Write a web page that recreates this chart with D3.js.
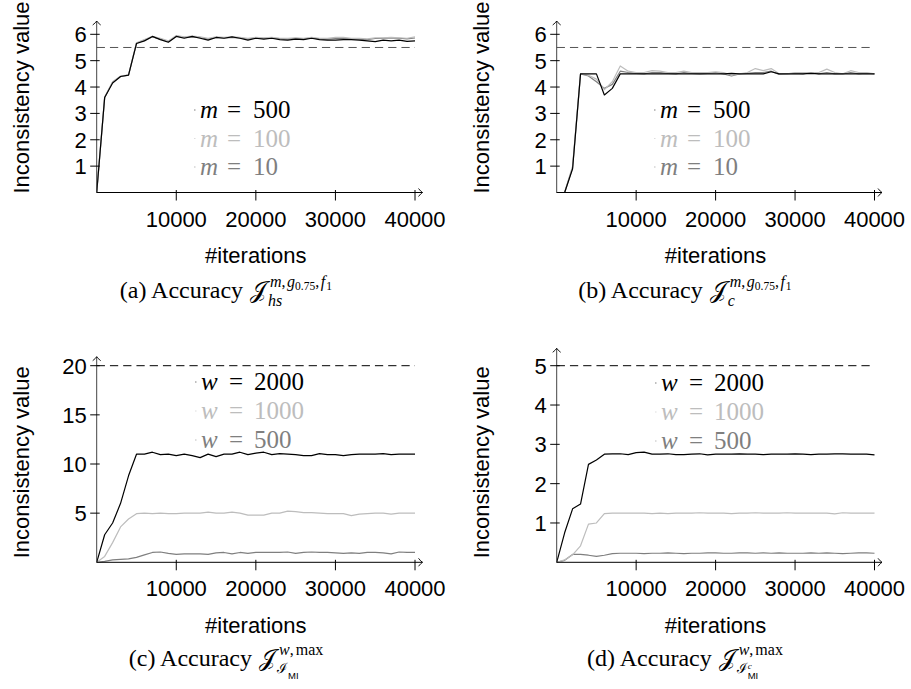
<!DOCTYPE html>
<html>
<head>
<meta charset="utf-8">
<script src="https://cdn.jsdelivr.net/npm/d3@7"></script>
<style>
  body { margin: 0; background: #fff; }
  svg { display: block; }
  .tick-label { font-family: "Liberation Sans", Arial, sans-serif; font-size: 22px; fill: #000; }
  .axis-title { font-family: "Liberation Sans", Arial, sans-serif; font-size: 22px; fill: #000; }
</style>
</head>
<body>
<svg id="chart" width="911" height="689"></svg>
<script>
//------------------------------------------------------------------------------
// data, read off the reference picture (sampled every 1000 iterations)

const iterations = [
  0, 1000, 2000, 3000, 4000, 5000, 6000, 7000, 8000, 9000,
  10000, 11000, 12000, 13000, 14000, 15000, 16000, 17000, 18000, 19000,
  20000, 21000, 22000, 23000, 24000, 25000, 26000, 27000, 28000, 29000,
  30000, 31000, 32000, 33000, 34000, 35000, 36000, 37000, 38000, 39000, 40000
];

const xTicks = [10000, 20000, 30000, 40000];

// (a) hs
const hsM500 = [0, 3.6, 4.15, 4.4, 4.45, 5.65, 5.75, 5.92, 5.8, 5.7, 5.92, 5.85, 5.92, 5.85, 5.78, 5.88, 5.85, 5.9, 5.85, 5.78, 5.85, 5.82, 5.85, 5.8, 5.78, 5.82, 5.8, 5.85, 5.8, 5.78, 5.78, 5.8, 5.8, 5.78, 5.75, 5.72, 5.78, 5.75, 5.78, 5.73, 5.75];
const hsM100 = [0, 3.62, 4.2, 4.42, 4.45, 5.68, 5.8, 5.92, 5.85, 5.75, 5.95, 5.9, 5.93, 5.9, 5.85, 5.9, 5.88, 5.9, 5.88, 5.85, 5.88, 5.87, 5.88, 5.85, 5.85, 5.87, 5.85, 5.88, 5.85, 5.85, 5.88, 5.88, 5.85, 5.85, 5.83, 5.87, 5.87, 5.88, 5.87, 5.85, 5.9];
const hsM10 = [0, 3.6, 4.18, 4.4, 4.45, 5.66, 5.78, 5.9, 5.82, 5.72, 5.93, 5.88, 5.9, 5.88, 5.82, 5.88, 5.86, 5.88, 5.86, 5.82, 5.86, 5.85, 5.86, 5.84, 5.82, 5.85, 5.83, 5.86, 5.83, 5.82, 5.84, 5.85, 5.83, 5.82, 5.8, 5.84, 5.85, 5.86, 5.85, 5.83, 5.86];

// (b) c
const cM500 = [0, 0, 0.9, 4.5, 4.5, 4.5, 3.7, 3.95, 4.5, 4.5, 4.5, 4.5, 4.5, 4.5, 4.5, 4.5, 4.5, 4.5, 4.5, 4.5, 4.5, 4.5, 4.52, 4.5, 4.5, 4.5, 4.5, 4.58, 4.5, 4.5, 4.5, 4.5, 4.52, 4.5, 4.5, 4.5, 4.5, 4.5, 4.5, 4.5, 4.5];
const cM100 = [0, 0, 1.0, 4.5, 4.45, 4.3, 3.9, 4.2, 4.8, 4.6, 4.55, 4.55, 4.62, 4.6, 4.55, 4.55, 4.6, 4.55, 4.55, 4.55, 4.58, 4.55, 4.45, 4.5, 4.55, 4.7, 4.62, 4.7, 4.5, 4.5, 4.55, 4.55, 4.55, 4.55, 4.68, 4.55, 4.5, 4.62, 4.55, 4.55, 4.5];
const cM10 = [0, 0, 0.95, 4.5, 4.42, 4.2, 3.95, 4.1, 4.6, 4.55, 4.52, 4.5, 4.55, 4.55, 4.52, 4.5, 4.55, 4.52, 4.5, 4.52, 4.55, 4.5, 4.42, 4.5, 4.52, 4.55, 4.55, 4.6, 4.48, 4.5, 4.52, 4.5, 4.55, 4.5, 4.55, 4.5, 4.5, 4.55, 4.5, 4.52, 4.5];

// (c) I_MI
const miW2000 = [0, 2.8, 4.0, 6.0, 8.8, 11.0, 11.0, 11.2, 10.95, 11.0, 10.85, 11.0, 10.85, 10.65, 11.0, 10.75, 11.0, 11.0, 11.2, 10.95, 11.1, 11.2, 10.95, 11.05, 11.0, 10.95, 10.85, 10.85, 11.05, 10.95, 10.95, 10.85, 10.95, 11.0, 11.0, 11.0, 11.05, 10.95, 11.0, 11.0, 11.0];
const miW1000 = [0, 0.6, 2.0, 3.6, 4.4, 4.95, 5.0, 4.95, 5.0, 4.95, 4.95, 5.0, 5.0, 5.0, 5.1, 5.0, 5.0, 5.1, 5.0, 4.8, 4.8, 4.8, 5.0, 5.0, 5.2, 5.15, 5.05, 5.05, 5.0, 4.95, 4.95, 4.95, 4.75, 4.9, 4.95, 5.0, 5.0, 4.9, 5.0, 5.0, 5.0];
const miW500 = [0, 0.1, 0.25, 0.3, 0.35, 0.5, 0.75, 1.0, 1.05, 0.9, 0.8, 0.85, 0.85, 0.85, 0.8, 0.95, 1.0, 0.85, 1.0, 0.9, 1.0, 1.0, 1.0, 1.0, 1.05, 0.9, 1.0, 1.05, 1.0, 1.0, 0.95, 0.9, 0.95, 0.9, 1.0, 1.0, 0.95, 0.85, 1.05, 1.0, 1.0];

// (d) I^c_MI
const micW2000 = [0, 0.75, 1.36, 1.48, 2.49, 2.6, 2.75, 2.76, 2.76, 2.74, 2.79, 2.8, 2.75, 2.75, 2.76, 2.74, 2.74, 2.75, 2.76, 2.73, 2.75, 2.75, 2.75, 2.76, 2.75, 2.75, 2.74, 2.75, 2.75, 2.75, 2.76, 2.75, 2.74, 2.75, 2.75, 2.76, 2.76, 2.75, 2.75, 2.75, 2.73];
const micW1000 = [0, 0.06, 0.19, 0.42, 0.97, 1.0, 1.24, 1.25, 1.25, 1.25, 1.25, 1.25, 1.24, 1.25, 1.24, 1.25, 1.25, 1.25, 1.26, 1.25, 1.25, 1.25, 1.24, 1.25, 1.25, 1.26, 1.25, 1.25, 1.25, 1.26, 1.25, 1.25, 1.25, 1.25, 1.25, 1.23, 1.26, 1.25, 1.25, 1.25, 1.25];
const micW500 = [0, 0.05, 0.2, 0.2, 0.18, 0.15, 0.18, 0.22, 0.23, 0.23, 0.23, 0.22, 0.23, 0.23, 0.24, 0.23, 0.22, 0.23, 0.23, 0.24, 0.24, 0.23, 0.23, 0.24, 0.24, 0.23, 0.24, 0.23, 0.24, 0.23, 0.23, 0.23, 0.24, 0.23, 0.24, 0.23, 0.22, 0.23, 0.24, 0.24, 0.23];

const mLabels = ['500', '100', '10'];
const wLabels = ['2000', '1000', '500'];

const yTicksTop = [1, 2, 3, 4, 5, 6];
const yTicksC = [5, 10, 15, 20];
const yTicksD = [1, 2, 3, 4, 5];

// dashed reference levels
const refLevels = [5.5, 5.5, 20, 5];

//------------------------------------------------------------------------------

const seriesColours = ['#000000', '#bdbdbd', '#7f7f7f'];

const serif = '"Liberation Serif", "Times New Roman", serif';
const sans = '"Liberation Sans", Arial, sans-serif';

const svg = d3.select('#chart');

const dLog = console.debug;

/** layout of each of the 4 sub-figures */
const panels = [
  { id: 'a', left: 96.7, right: 415, bottom: 192.5, yMax: 6, yTop: 34.3, tipY: 21,
    yTicks: yTicksTop, series: [hsM500, hsM100, hsM10], sym: 'm', labels: mLabels,
    ref: refLevels[0], refColour: '#555', legX: 200, legY: 110, legStep: 28.5,
    capX: 226, capY: 298, capL: '(a)', capKind: 'hs' },
  { id: 'b', left: 556.7, right: 874.5, bottom: 192.5, yMax: 6, yTop: 34.3, tipY: 21,
    yTicks: yTicksTop, series: [cM500, cM100, cM10], sym: 'm', labels: mLabels,
    ref: refLevels[1], refColour: '#555', legX: 660, legY: 110, legStep: 28.5,
    capX: 685, capY: 298, capL: '(b)', capKind: 'c' },
  { id: 'c', left: 96.7, right: 415, bottom: 562.3, yMax: 20, yTop: 365.7, tipY: 356.7,
    yTicks: yTicksC, series: [miW2000, miW1000, miW500], sym: 'w', labels: wLabels,
    ref: refLevels[2], refColour: '#000', legX: 201, legY: 382, legStep: 29,
    capX: 226, capY: 666, capL: '(c)', capKind: 'mi' },
  { id: 'd', left: 556.7, right: 874.5, bottom: 562.3, yMax: 5, yTop: 365.7, tipY: 348.3,
    yTicks: yTicksD, series: [micW2000, micW1000, micW500], sym: 'w', labels: wLabels,
    ref: refLevels[3], refColour: '#000', legX: 661, legY: 383, legStep: 29,
    capX: 685, capY: 666, capL: '(d)', capKind: 'mic' },
];

function arrowHead(g, x, y, dir) {
  const s = 4;
  const d = dir === 'right'
    ? `M${x - s},${y - s} Q${x - 1.5},${y - 0.8} ${x},${y} Q${x - 1.5},${y + 0.8} ${x - s},${y + s}`
    : `M${x - s},${y + s} Q${x - 0.8},${y + 1.5} ${x},${y} Q${x + 0.8},${y + 1.5} ${x + s},${y + s}`;
  g.append('path').attr('d', d).attr('fill', 'none').attr('stroke', '#000').attr('stroke-width', 0.9);
}

function drawPanel(p) {
  const
  g = svg.append('g').attr('class', 'panel-' + p.id),
  x = d3.scaleLinear().domain([0, 40000]).range([p.left, p.right]),
  y = d3.scaleLinear().domain([0, p.yMax]).range([p.bottom, p.yTop]);

  // dashed reference line
  g.append('line')
    .attr('x1', x(0)).attr('x2', x(40000))
    .attr('y1', y(p.ref)).attr('y2', y(p.ref))
    .attr('stroke', p.refColour).attr('stroke-width', 1)
    .attr('stroke-dasharray', '8.25 5');

  // series : grey ones first so that the black one stays on top
  const line = d3.line()
    .x((d, i) => x(iterations[i]))
    .y(d => y(d));
  [2, 1, 0].forEach(i => {
    g.append('path')
      .datum(p.series[i])
      .attr('d', line)
      .attr('fill', 'none')
      .attr('stroke', seriesColours[i])
      .attr('stroke-width', 1.2)
      .attr('stroke-linejoin', 'round');
  });

  // axis lines with arrow tips
  const tipX = p.right + 7.5;
  g.append('line').attr('x1', p.left).attr('x2', tipX).attr('y1', p.bottom).attr('y2', p.bottom)
    .attr('stroke', '#000').attr('stroke-width', 1);
  g.append('line').attr('x1', p.left).attr('x2', p.left).attr('y1', p.bottom).attr('y2', p.tipY)
    .attr('stroke', '#444').attr('stroke-width', 1);
  arrowHead(g, tipX, p.bottom, 'right');
  arrowHead(g, p.left, p.tipY, 'up');

  // x ticks
  g.selectAll('line.xtick').data(xTicks).enter().append('line')
    .attr('class', 'xtick')
    .attr('x1', d => x(d)).attr('x2', d => x(d))
    .attr('y1', p.bottom - 2.5).attr('y2', p.bottom + 8)
    .attr('stroke', '#000').attr('stroke-width', 1);
  g.selectAll('text.xtl').data(xTicks).enter().append('text')
    .attr('class', 'tick-label xtl')
    .attr('x', d => x(d)).attr('y', p.bottom + 34)
    .attr('text-anchor', 'middle')
    .text(d => d);

  // y ticks
  g.selectAll('line.ytick').data(p.yTicks).enter().append('line')
    .attr('class', 'ytick')
    .attr('x1', p.left - 6.5).attr('x2', p.left + 3)
    .attr('y1', d => y(d)).attr('y2', d => y(d))
    .attr('stroke', '#000').attr('stroke-width', 1);
  g.selectAll('text.ytl').data(p.yTicks).enter().append('text')
    .attr('class', 'tick-label ytl')
    .attr('x', p.left - 10).attr('y', d => y(d))
    .attr('dy', '0.36em')
    .attr('text-anchor', 'end')
    .text(d => d);

  // axis titles
  g.append('text').attr('class', 'axis-title')
    .attr('x', (p.left + p.right) / 2).attr('y', p.bottom + 70.5)
    .attr('text-anchor', 'middle')
    .text('#iterations');
  const yc = p.bottom - (p.yMax === 6 ? 95 : 100);
  g.append('text').attr('class', 'axis-title')
    .attr('transform', `translate(${p.left - 68},${yc}) rotate(-90)`)
    .attr('text-anchor', 'middle')
    .text('Inconsistency value');

  // legend
  p.labels.forEach((lab, i) => {
    const ly = p.legY + i * p.legStep;
    g.append('line').attr('x1', p.legX - 6).attr('x2', p.legX - 4.5)
      .attr('y1', ly).attr('y2', ly)
      .attr('stroke', seriesColours[i]).attr('stroke-width', 1).attr('opacity', 0.5);
    const t = g.append('text')
      .attr('y', ly).attr('dy', '0.33em')
      .style('font-family', serif).style('font-size', '25px')
      .attr('fill', seriesColours[i]);
    t.append('tspan').attr('x', p.legX).attr('font-style', 'italic').text(p.sym);
    t.append('tspan').attr('x', p.legX + (p.sym === 'm' ? 27 : 28)).text('=');
    t.append('tspan').attr('x', p.legX + 53).text(lab);
  });

  drawCaption(g, p);
}

/** append one run of caption text at (x, y), return its advance width */
function run(cg, x, y, size, str, opts = {}) {
  const t = cg.append('text')
    .attr('x', x).attr('y', y)
    .style('font-family', opts.family || serif)
    .style('font-size', size + 'px')
    .attr('fill', '#000')
    .attr('font-style', opts.italic ? 'italic' : null)
    .text(str);
  return t.node().getComputedTextLength();
}

/** caption : "(a) Accuracy J^{sup}_{sub}" built from separate text runs */
function drawCaption(g, p) {
  const
  cg = g.append('g').attr('class', 'caption-g'),
  y0 = p.capY,
  supY = y0 - 11,
  subY = y0 + 8;
  let cx = 0;
  cx += run(cg, cx, y0, 24, p.capL + ' Accuracy') + 7;
  cx += run(cg, cx, y0, 24, '\uD835\uDCA5');
  const jEnd = cx;

  // superscript
  let sx = jEnd + 3;
  if (p.capKind === 'hs' || p.capKind === 'c') {
    sx += run(cg, sx, supY, 16, 'm', { italic: true });
    sx += run(cg, sx, supY, 16, ',') + 1.5;
    sx += run(cg, sx, supY, 16, 'g', { italic: true });
    sx += run(cg, sx, supY + 3, 11.5, '0.75', { italic: false });
    sx += run(cg, sx, supY, 16, ',') + 1.5;
    sx += run(cg, sx, supY, 16, 'f', { italic: true }) + 1;
    sx += run(cg, sx, supY + 3, 11.5, '1');
  } else {
    sx += run(cg, sx, supY, 16, 'w', { italic: true });
    sx += run(cg, sx, supY, 16, ',') + 2;
    sx += run(cg, sx, supY, 16, 'max');
  }

  // subscript
  let bx = jEnd + 1;
  if (p.capKind === 'hs') {
    run(cg, bx, subY, 16, 'hs', { italic: true });
  } else if (p.capKind === 'c') {
    run(cg, bx, subY, 16, 'c', { italic: true });
  } else {
    bx += run(cg, bx, subY - 1, 14, '\u2110') + 1;
    if (p.capKind === 'mic') {
      run(cg, bx, subY - 5, 9, 'c', { italic: true });
    }
    run(cg, bx, subY + 5, 9.5, 'MI', { family: sans });
  }

  const bb = cg.node().getBBox();
  cg.attr('transform', `translate(${p.capX - bb.width / 2 - bb.x},0)`);
}

panels.forEach(drawPanel);
dLog('drawn', panels.length);
</script>
</body>
</html>
